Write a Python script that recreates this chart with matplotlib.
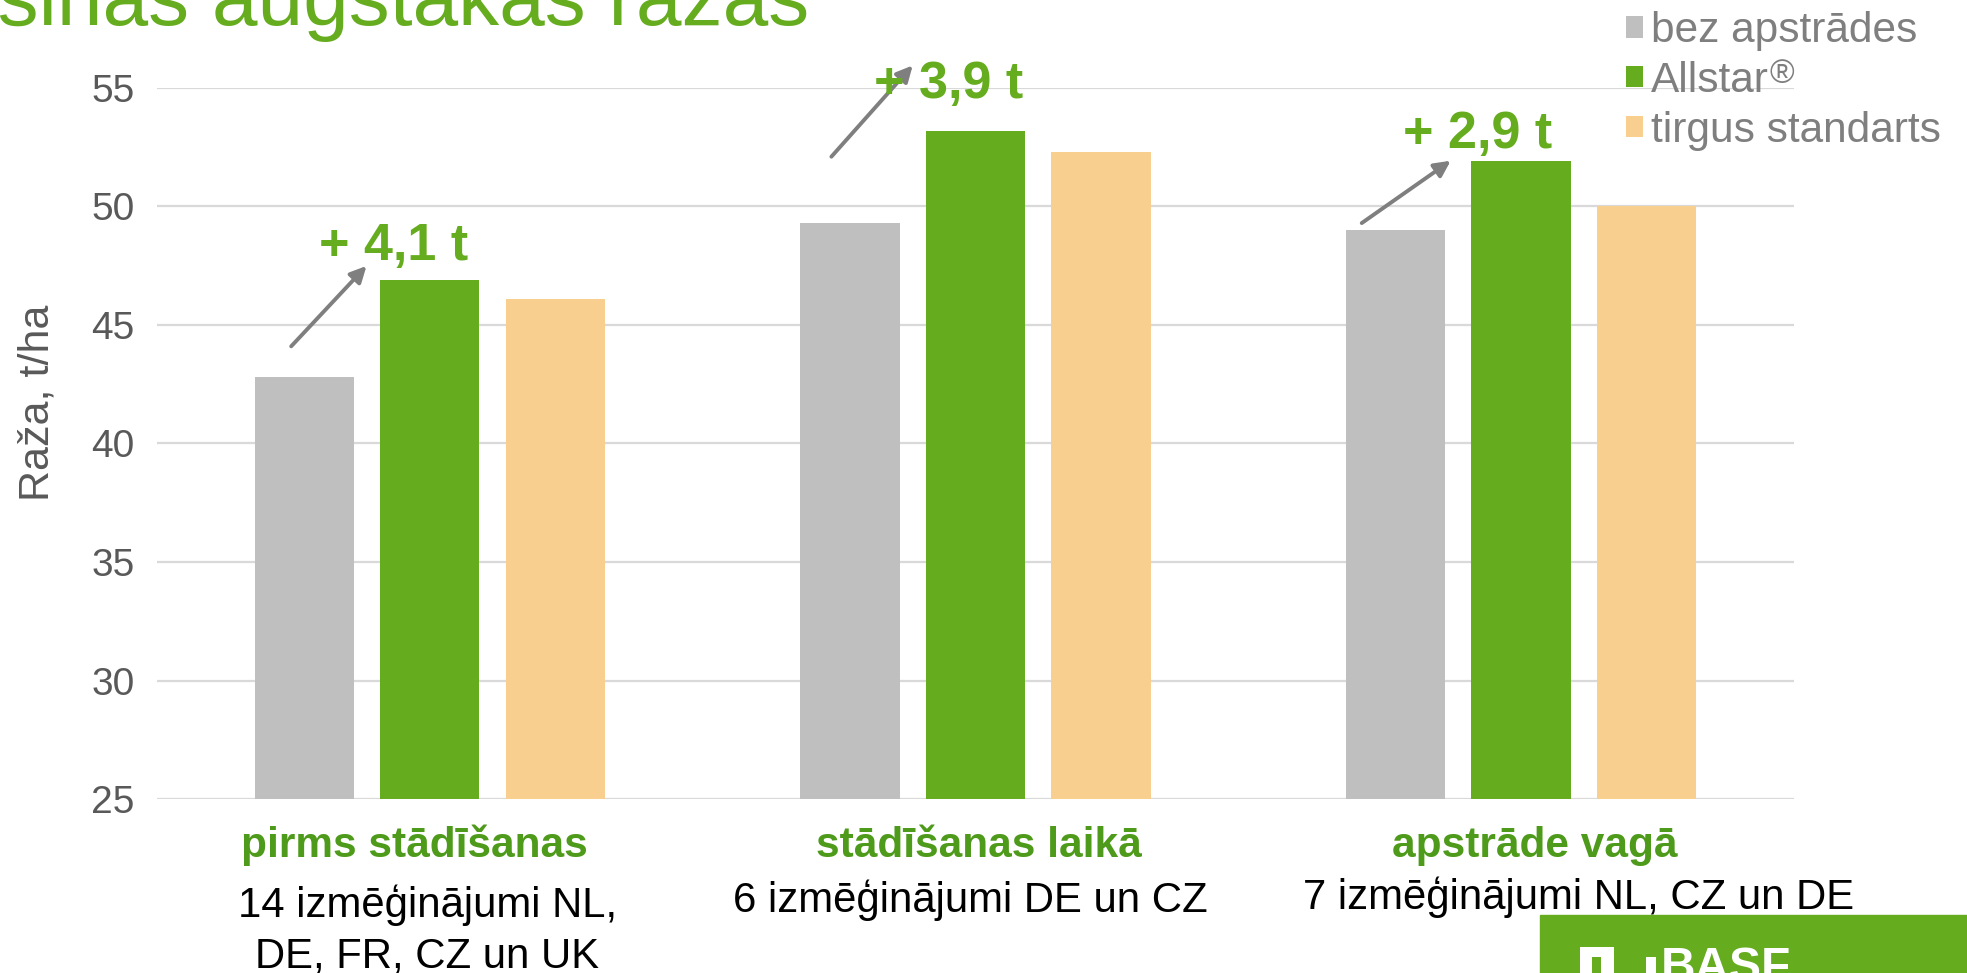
import matplotlib
matplotlib.use("Agg")
import matplotlib.pyplot as plt
from matplotlib.patches import Patch, Rectangle
import numpy as np

plt.rcParams['font.family'] = ['Liberation Sans', 'DejaVu Sans']

# ---- data ----
categories = ["pirms stādīšanas", "stādīšanas laikā", "apstrāde vagā"]
subtitles = ["14 izmēģinājumi NL,\nDE, FR, CZ un UK",
             "6 izmēģinājumi DE un CZ",
             "7 izmēģinājumi NL, CZ un DE"]
series_names = ["bez apstrādes", "Allstar", "tirgus standarts"]
bez_apstrades = [42.8, 49.3, 49.0]
allstar = [46.9, 53.2, 51.9]
tirgus_standarts = [46.1, 52.3, 50.0]
yticks = [25, 30, 35, 40, 45, 50, 55]

colors = ["#BFBFBF", "#65AC1E", "#F8CF8E"]
green_txt = "#65AC1E"
cat_green = "#4E9A1A"
grey_txt = "#595959"
legend_txt = "#7F7F7F"

W, H = 1967, 973
fig = plt.figure(figsize=(W / 100, H / 100), dpi=100)
ax = fig.add_axes([0.0798, 0.1788, 0.8322, 0.7308])

x = np.arange(len(categories))
width = 0.182
offsets = [-0.23, 0.0, 0.23]
all_series = [bez_apstrades, allstar, tirgus_standarts]
for s, off, c, name in zip(all_series, offsets, colors, series_names):
    ax.bar(x + off, s, width=width, color=c, zorder=3, label=name)

ax.set_xlim(-0.5, 2.5)
ax.set_ylim(25, 55)
ax.set_yticks(yticks)
ax.set_yticklabels([str(t) for t in yticks], fontsize=28, color=grey_txt)
ax.tick_params(axis='y', length=0, pad=16)
ax.tick_params(axis='x', length=0, labelbottom=False)
ax.yaxis.grid(True, color="#D9D9D9", lw=1.6, zorder=0)
for sp in ax.spines.values():
    sp.set_visible(False)
ax.set_ylabel("Raža, t/ha", fontsize=31, color=grey_txt)
ax.yaxis.set_label_coords(-0.061, 0.557)

# category labels (baselines in axes coords, below the plot)
trans = ax.get_xaxis_transform()
cat_dx = [-0.028, 0.0064, 0.0246]
sub_dx = [-0.0046, -0.009, 0.105]
sub_y0 = [-0.166, -0.159, -0.1547]
line_step = 50 / 711.1
for i, (cat, sub) in enumerate(zip(categories, subtitles)):
    ax.text(x[i] + cat_dx[i], -0.0816, cat, transform=trans, ha='center',
            va='baseline', fontsize=30.5, fontweight='bold', color=cat_green)
    for j, line in enumerate(sub.split("\n")):
        ax.text(x[i] + sub_dx[i], sub_y0[i] - j * line_step, line, transform=trans,
                ha='center', va='baseline', fontsize=30.2, color='black')

# increase annotations
arrow_geom = [((-0.254, 44.1), (-0.116, 47.49), (-0.066, 47.75)),
              ((-0.264, 52.1), (-0.115, 55.95), (-0.050, 54.58)),
              ((-0.292, 49.3), (-0.129, 51.93), (-0.080, 52.46))]
for i, (g0, g1) in enumerate(zip(bez_apstrades, allstar)):
    d = g1 - g0
    label = "+ " + f"{d:.1f}".replace('.', ',') + " t"
    (sx, sy), (ex, ey), (tx, ty) = arrow_geom[i]
    ax.annotate("", xy=(x[i] + ex, ey), xytext=(x[i] + sx, sy),
                arrowprops=dict(arrowstyle='-|>', color='#7F7F7F', lw=2.8,
                                mutation_scale=24, shrinkA=0, shrinkB=0),
                annotation_clip=False, zorder=5)
    ax.text(x[i] + tx, ty, label, ha='center', va='baseline', fontsize=37.5,
            fontweight='bold', color=green_txt, clip_on=False, zorder=5)

# legend
handles = [Patch(facecolor=c, edgecolor='none') for c in colors]
leg = fig.legend(handles, series_names, loc='upper left',
                 bbox_to_anchor=(0.8265, 0.9885),
                 frameon=False, fontsize=30.5, labelcolor=legend_txt,
                 handlelength=0.4, handleheight=0.4, handletextpad=0.2,
                 labelspacing=0.23, borderpad=0, borderaxespad=0)

# title (partially cut)
fig.text(809 / W, 1 - 25 / H, "Allstar nodrošinās augstākas ražas",
         ha='right', va='baseline', fontsize=59, color=green_txt)

# logo block
fig.patches.append(Rectangle((1540 / W, 0), 1 - 1540 / W, 58 / H,
                             transform=fig.transFigure, color="#65AC1E", zorder=1))
fig.patches.append(Rectangle((1580 / W, 0), 34 / W, 26 / H,
                             transform=fig.transFigure, facecolor="white",
                             edgecolor='none', zorder=2))
fig.patches.append(Rectangle((1592 / W, 0), 9 / W, 16 / H,
                             transform=fig.transFigure, facecolor="#65AC1E",
                             edgecolor='none', zorder=3))
fig.patches.append(Rectangle((1646 / W, 0), 10 / W, 16 / H,
                             transform=fig.transFigure, facecolor="white",
                             edgecolor='none', zorder=2))
fig.text(1661 / W, -8 / H, "BASF", ha='left', va='baseline',
         fontsize=34.5, fontweight='bold', color='white', zorder=3)

# registered mark after "Allstar" in the legend
fig.canvas.draw()
renderer = fig.canvas.get_renderer()
bb = leg.get_texts()[1].get_window_extent(renderer)
fs_px = 30.5 * 100 / 72
baseline = bb.y0 + 0.212 * fs_px
fig.text(bb.x1 / W, (baseline + 9) / H, "®", ha='left', va='baseline',
         fontsize=24, color=legend_txt)

fig.savefig("out.png", dpi=100)
